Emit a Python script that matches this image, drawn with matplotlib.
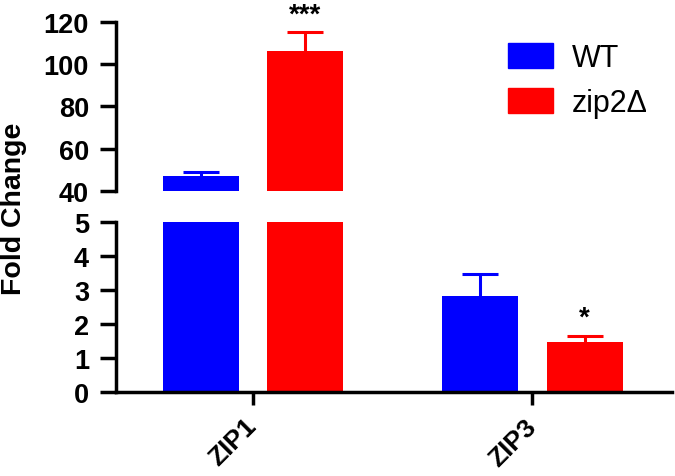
import matplotlib.pyplot as plt
import numpy as np
from matplotlib.patches import Patch

plt.rcParams['font.family'] = ['Liberation Sans', 'DejaVu Sans']

genes = ["ZIP1", "ZIP3"]
wt_mean = [47.1, 2.84]
wt_err = [1.6, 0.64]
zip2_mean = [106.0, 1.47]
zip2_err = [9.0, 0.19]
zip2_stars = ["***", "*"]

top_ticks = [40, 60, 80, 100, 120]
bot_ticks = [0, 1, 2, 3, 4, 5]

blue = "#0000ff"
red = "#ff0000"
lw = 2.5

x = np.arange(len(genes))
w = 0.272
off = 0.187

fig = plt.figure(figsize=(6.75, 4.77), dpi=100)
ax_top = fig.add_axes([0.172, 0.598, 0.8237, 0.3543])
ax_bot = fig.add_axes([0.172, 0.1755, 0.8237, 0.3564])

for ax in (ax_top, ax_bot):
    ax.bar(x - off, wt_mean, w, color=blue, label="WT")
    ax.bar(x + off, zip2_mean, w, color=red, label="zip2Δ")
    for xs, m, e, c in [(x - off, wt_mean, wt_err, blue), (x + off, zip2_mean, zip2_err, red)]:
        eb = ax.errorbar(xs, m, yerr=[np.zeros(2), e], fmt="none",
                         ecolor=c, elinewidth=2.2, capsize=13, capthick=2.2)
        # only the upper cap, as in the original
        eb[1][0].set_visible(False)
    ax.set_xlim(-0.49, 1.5)
    ax.spines["top"].set_visible(False)
    ax.spines["right"].set_visible(False)
    ax.spines["left"].set_linewidth(lw)
    ax.spines["bottom"].set_linewidth(lw)
    ax.tick_params(axis="y", length=11.5, width=lw, pad=8, labelsize=19.5)

ax_top.set_ylim(40, 120)
ax_top.set_yticks(top_ticks)
ax_top.spines["bottom"].set_visible(False)
ax_top.tick_params(axis="x", bottom=False, labelbottom=False)

ax_bot.set_ylim(0, 5)
ax_bot.set_yticks(bot_ticks)
ax_bot.set_xticks(x)
ax_bot.set_xticklabels(genes, rotation=45, ha="right", va="center",
                       rotation_mode="anchor", fontweight="bold", fontsize=19)
ax_bot.tick_params(axis="x", length=9.5, width=lw, pad=12)

for ax in (ax_top, ax_bot):
    for t in ax.get_yticklabels():
        t.set_fontweight("bold")

# significance stars above zip2Δ bars
for i, s in enumerate(zip2_stars):
    top = zip2_mean[i] + zip2_err[i]
    ax = ax_top if top > 5 else ax_bot
    ax.annotate(s, xy=(x[i] + off, top), xytext=(0, 8), textcoords="offset points",
                ha="center", va="baseline", fontsize=20, fontweight="bold",
                annotation_clip=False)

fig.text(0.021, 0.562, "Fold Change", rotation=90, ha="center", va="center",
         fontsize=20.5, fontweight="bold")

handles = [Patch(color=blue), Patch(color=red)]
ax_top.legend(handles, ["WT", "zip2Δ"], loc="upper left",
              bbox_to_anchor=(0.752, 1 - 44 / 477), bbox_transform=fig.transFigure,
              frameon=False, fontsize=22, handlelength=1.47, handleheight=0.88,
              handletextpad=0.62, labelspacing=0.5, borderpad=0, borderaxespad=0)

fig.savefig("out.png", dpi=100)
